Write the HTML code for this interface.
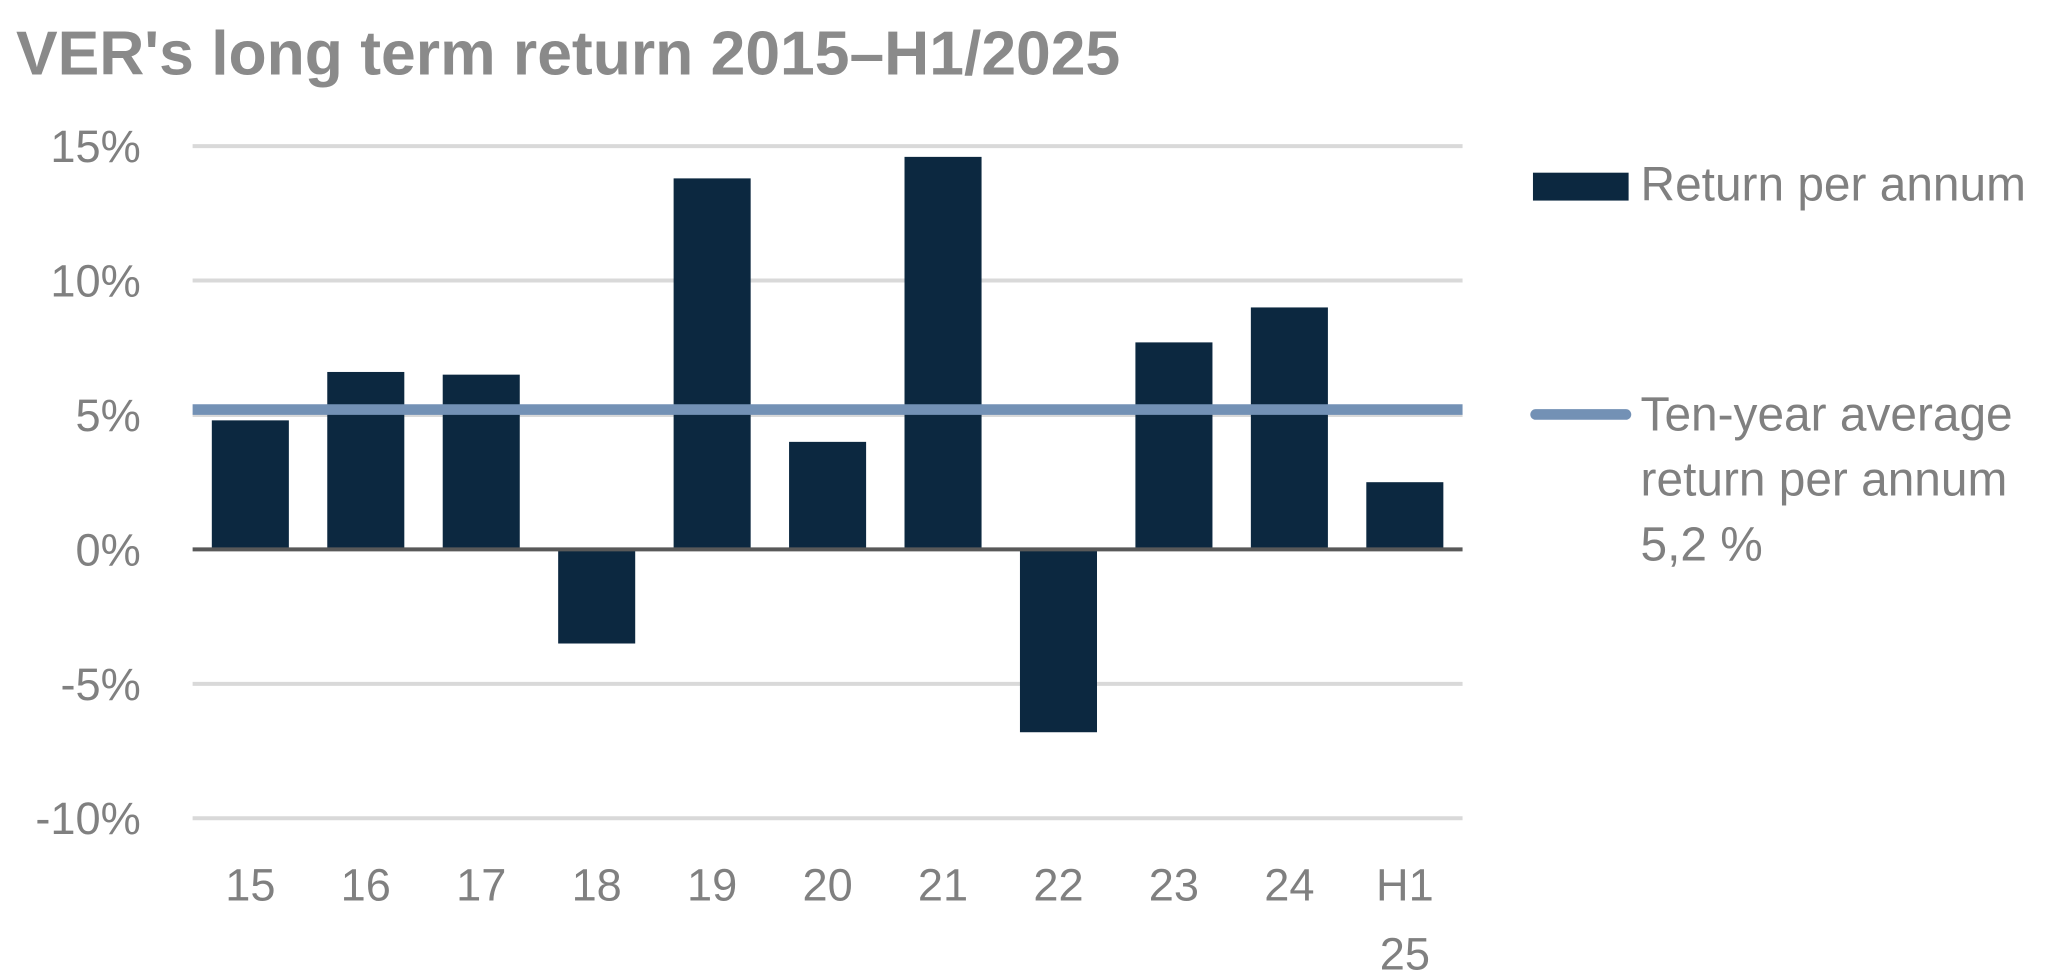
<!DOCTYPE html>
<html><head><meta charset="utf-8"><style>
html,body{margin:0;padding:0;background:#fff;}
svg{display:block;font-family:"Liberation Sans",sans-serif;}
</style></head><body>
<svg id="chart" width="2059" height="979" viewBox="0 0 1550 737" preserveAspectRatio="none">
<text x="12" y="56" font-size="47" font-weight="bold" fill="#8a8a8a">VER's long term return 2015–H1/2025</text>
<g id="grid"></g><g id="bars"></g><g id="axis"></g><g id="xlabels"></g>
<g>
<rect x="1154" y="130" width="72" height="21" fill="#0c2840"/>
<text x="1235" y="151" font-size="36" fill="#808080">Return per annum</text>
<line x1="1156" y1="312" x2="1224" y2="312" stroke="#7391b5" stroke-width="8" stroke-linecap="round"/>
<text font-size="36" fill="#808080"><tspan x="1235" y="324">Ten-year average</tspan><tspan x="1235" y="373">return per annum</tspan><tspan x="1235" y="422">5,2 %</tspan></text>
</g>
</svg>
<script>
const categories = ["15","16","17","18","19","20","21","22","23","24","H1|25"];
const returns = [4.8, 6.6, 6.5, -3.5, 13.8, 4.0, 14.6, -6.8, 7.7, 9.0, 2.5];
const average = [5.2];
const yTicks = [15, 10, 5, 0, -5, -10];
const yTickLabels = ["15%","10%","5%","0%","-5%","-10%"];

const NS = "http://www.w3.org/2000/svg";
const x0 = 145, x1 = 1101, yTop = 110, yBot = 616, vMax = 15, vMin = -10;
const y = v => yTop + (vMax - v) / (vMax - vMin) * (yBot - yTop);
const band = (x1 - x0) / categories.length;
const xc = i => x0 + band * (i + 0.5);
function mk(tag, attrs, parent) { const e = document.createElementNS(NS, tag); for (const k in attrs) e.setAttribute(k, attrs[k]); parent.appendChild(e); return e; }
const grid = document.getElementById("grid"), bars = document.getElementById("bars"), axis = document.getElementById("axis"), xl = document.getElementById("xlabels");
yTicks.forEach((t, i) => {
  if (t !== 0) {
    const l = mk("line", {x1: x0, x2: x1, y1: y(t), y2: y(t), stroke: "#d9d9d9", "stroke-width": 3}, grid);
    
    
  }
  const tx = mk("text", {x: 106, y: y(t) + 12, "font-size": 34, fill: "#808080", "text-anchor": "end"}, axis);
  
  
  tx.textContent = yTickLabels[i];
});
const bw = 58;
returns.forEach((v, i) => {
  const r = mk("rect", {x: xc(i) - bw / 2, y: Math.min(y(v), y(0)), width: bw, height: Math.abs(y(v) - y(0)), fill: "#0c2840"}, bars);
  
  
  const parts = categories[i].split("|");
  parts.forEach((p, j) => {
    const t = mk("text", {x: xc(i), y: 678 + j * 52, "font-size": 34, fill: "#808080", "text-anchor": "middle"}, xl);
    
    
    t.textContent = p;
  });
});
const zl = mk("line", {x1: x0, x2: x1, y1: y(0), y2: y(0), stroke: "#595959", "stroke-width": 3}, axis);


const al = mk("line", {x1: x0, x2: x1, y1: y(average[0]), y2: y(average[0]), stroke: "#7391b5", "stroke-width": 8}, axis);


</script>
</body></html>
